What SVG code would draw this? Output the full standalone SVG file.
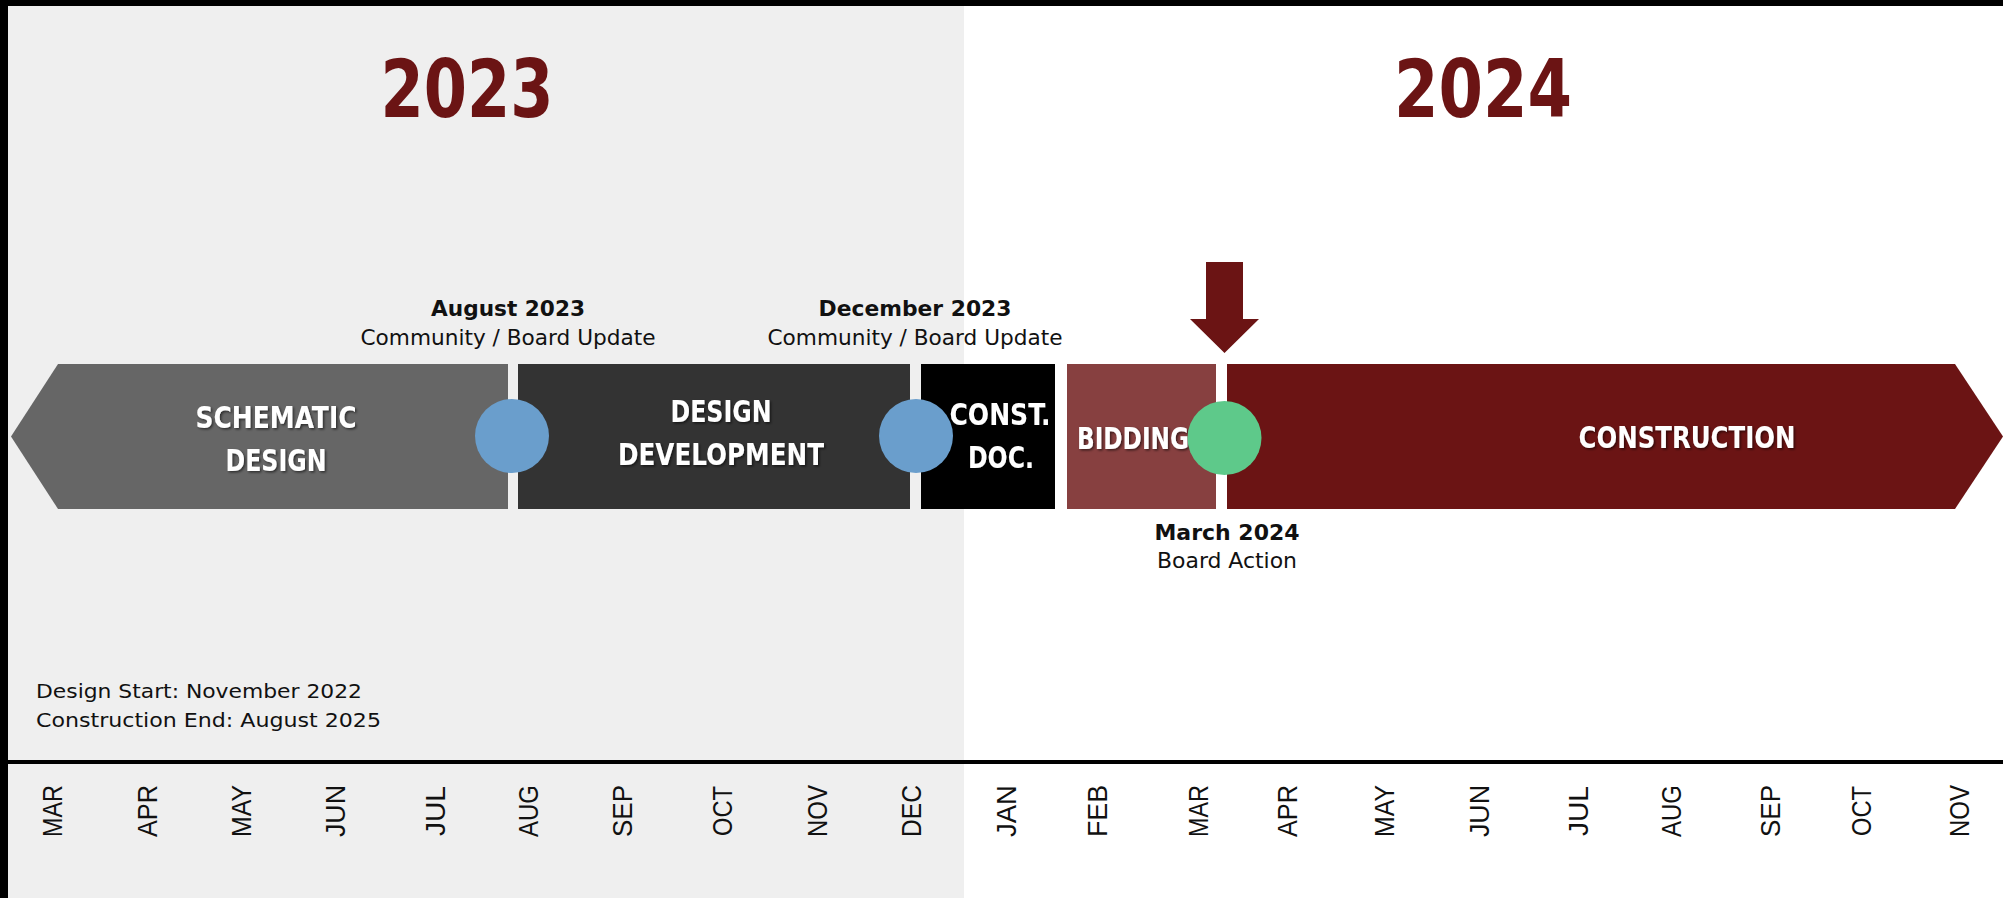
<svg xmlns="http://www.w3.org/2000/svg" width="2003" height="898" viewBox="0 0 2003 898">
<defs>
<filter id="sh" x="-10%" y="-30%" width="120%" height="160%">
<feDropShadow dx="1.5" dy="1.5" stdDeviation="1.2" flood-color="#000" flood-opacity="0.55"/>
</filter>
</defs>
<style>
.yr{font-family:"Liberation Sans Narrow","DejaVu Sans Condensed","Liberation Sans",sans-serif;font-weight:bold;font-size:80px;fill:#6b1414;text-anchor:middle}
.seg{font-family:"Liberation Sans Narrow","DejaVu Sans Condensed","Liberation Sans",sans-serif;font-weight:bold;font-size:31px;fill:#ffffff;text-anchor:middle;filter:url(#sh)}
.lb{font-family:"Liberation Sans Narrow","DejaVu Sans Condensed","Liberation Sans",sans-serif;font-weight:bold;font-size:22px;fill:#111;text-anchor:middle}
.ls{font-family:"Liberation Sans Narrow","DejaVu Sans Condensed","Liberation Sans",sans-serif;font-size:21px;fill:#111;text-anchor:middle}
.note{font-family:"Liberation Sans Narrow","DejaVu Sans Condensed","Liberation Sans",sans-serif;font-size:20px;fill:#111}
.mon{font-family:"Liberation Sans","DejaVu Sans",sans-serif;font-size:28px;fill:#111;text-anchor:middle}
.blue{fill:#6a9ecc}
.green{fill:#5ec98a}
</style>
<!-- background -->
<rect x="0" y="0" width="2003" height="898" fill="#ffffff"/>
<rect x="8" y="6" width="956" height="892" fill="#efefef"/>
<rect x="0" y="0" width="2003" height="6" fill="#000"/>
<rect x="0" y="0" width="8" height="898" fill="#000"/>

<text class="yr" x="467" y="117" textLength="173" lengthAdjust="spacingAndGlyphs">2023</text>
<text class="yr" x="1483" y="117" textLength="178" lengthAdjust="spacingAndGlyphs">2024</text>

<!-- phases -->
<g id="schematic-design">
<polygon points="11,436.5 58,364 508,364 508,509 58,509" fill="#666666"/>
<text class="seg" x="276" y="428" textLength="161" lengthAdjust="spacingAndGlyphs">SCHEMATIC</text>
<text class="seg" x="276" y="471" textLength="101" lengthAdjust="spacingAndGlyphs">DESIGN</text>
</g>
<g id="design-development">
<rect x="518" y="364" width="392" height="145" fill="#333333"/>
<text class="seg" x="721" y="422" textLength="101" lengthAdjust="spacingAndGlyphs">DESIGN</text>
<text class="seg" x="721" y="465" textLength="206" lengthAdjust="spacingAndGlyphs">DEVELOPMENT</text>
</g>
<g id="construction-documents">
<rect x="921" y="364" width="134" height="145" fill="#000000"/>
<text class="seg" x="1000" y="425" textLength="101" lengthAdjust="spacingAndGlyphs">CONST.</text>
<text class="seg" x="1001" y="468" textLength="66" lengthAdjust="spacingAndGlyphs">DOC.</text>
</g>
<g id="bidding">
<rect x="1067" y="364" width="149" height="145" fill="#874040"/>
<text class="seg" x="1133" y="449" textLength="112" lengthAdjust="spacingAndGlyphs">BIDDING</text>
</g>
<g id="construction">
<polygon points="1227,364 1955,364 2003,436.5 1955,509 1227,509" fill="#6b1414"/>
<text class="seg" x="1687" y="448" textLength="217" lengthAdjust="spacingAndGlyphs">CONSTRUCTION</text>
</g>

<!-- milestones -->
<g id="milestone-aug-2023">
<circle class="blue" cx="512" cy="436" r="37"/>
<text class="lb" x="508" y="316" textLength="154" lengthAdjust="spacingAndGlyphs">August 2023</text>
<text class="ls" x="508" y="345" textLength="295" lengthAdjust="spacingAndGlyphs">Community / Board Update</text>
</g>
<g id="milestone-dec-2023">
<circle class="blue" cx="916" cy="436" r="37"/>
<text class="lb" x="915" y="316" textLength="193" lengthAdjust="spacingAndGlyphs">December 2023</text>
<text class="ls" x="915" y="345" textLength="295" lengthAdjust="spacingAndGlyphs">Community / Board Update</text>
</g>
<g id="milestone-mar-2024">
<circle class="green" cx="1224.5" cy="438" r="37"/>
<text class="lb" x="1227" y="540" textLength="145" lengthAdjust="spacingAndGlyphs">March 2024</text>
<text class="ls" x="1227" y="568" textLength="140" lengthAdjust="spacingAndGlyphs">Board Action</text>
</g>

<g id="connectors">
<polygon id="current-arrow" points="1206,262 1243,262 1243,319 1259,319 1224.5,353 1190,319 1206,319" fill="#6b1414"/>
<line x1="8" y1="762" x2="2003" y2="762" stroke="#000" stroke-width="4"/>
</g>

<g id="notes">
<text class="note" x="36" y="698" textLength="326" lengthAdjust="spacingAndGlyphs">Design Start: November 2022</text>
<text class="note" x="36" y="727" textLength="345" lengthAdjust="spacingAndGlyphs">Construction End: August 2025</text>
</g>

<g id="months">
<text class="mon" transform="translate(52,811) rotate(-90)" y="10" textLength="52" lengthAdjust="spacingAndGlyphs">MAR</text>
<text class="mon" transform="translate(147,811) rotate(-90)" y="10" textLength="52" lengthAdjust="spacingAndGlyphs">APR</text>
<text class="mon" transform="translate(241,811) rotate(-90)" y="10" textLength="52" lengthAdjust="spacingAndGlyphs">MAY</text>
<text class="mon" transform="translate(335,811) rotate(-90)" y="10" textLength="52" lengthAdjust="spacingAndGlyphs">JUN</text>
<text class="mon" transform="translate(435,811) rotate(-90)" y="10" textLength="50" lengthAdjust="spacingAndGlyphs">JUL</text>
<text class="mon" transform="translate(528,811) rotate(-90)" y="10" textLength="52" lengthAdjust="spacingAndGlyphs">AUG</text>
<text class="mon" transform="translate(622,811) rotate(-90)" y="10" textLength="52" lengthAdjust="spacingAndGlyphs">SEP</text>
<text class="mon" transform="translate(722,811) rotate(-90)" y="10" textLength="50" lengthAdjust="spacingAndGlyphs">OCT</text>
<text class="mon" transform="translate(817,811) rotate(-90)" y="10" textLength="52" lengthAdjust="spacingAndGlyphs">NOV</text>
<text class="mon" transform="translate(911,811) rotate(-90)" y="10" textLength="52" lengthAdjust="spacingAndGlyphs">DEC</text>
<text class="mon" transform="translate(1006,811) rotate(-90)" y="10" textLength="52" lengthAdjust="spacingAndGlyphs">JAN</text>
<text class="mon" transform="translate(1097,811) rotate(-90)" y="10" textLength="52" lengthAdjust="spacingAndGlyphs">FEB</text>
<text class="mon" transform="translate(1198,811) rotate(-90)" y="10" textLength="52" lengthAdjust="spacingAndGlyphs">MAR</text>
<text class="mon" transform="translate(1287,811) rotate(-90)" y="10" textLength="52" lengthAdjust="spacingAndGlyphs">APR</text>
<text class="mon" transform="translate(1384,811) rotate(-90)" y="10" textLength="52" lengthAdjust="spacingAndGlyphs">MAY</text>
<text class="mon" transform="translate(1479,811) rotate(-90)" y="10" textLength="52" lengthAdjust="spacingAndGlyphs">JUN</text>
<text class="mon" transform="translate(1578,811) rotate(-90)" y="10" textLength="50" lengthAdjust="spacingAndGlyphs">JUL</text>
<text class="mon" transform="translate(1671,811) rotate(-90)" y="10" textLength="52" lengthAdjust="spacingAndGlyphs">AUG</text>
<text class="mon" transform="translate(1770,811) rotate(-90)" y="10" textLength="52" lengthAdjust="spacingAndGlyphs">SEP</text>
<text class="mon" transform="translate(1861,811) rotate(-90)" y="10" textLength="50" lengthAdjust="spacingAndGlyphs">OCT</text>
<text class="mon" transform="translate(1959,811) rotate(-90)" y="10" textLength="52" lengthAdjust="spacingAndGlyphs">NOV</text>
</g>
</svg>
